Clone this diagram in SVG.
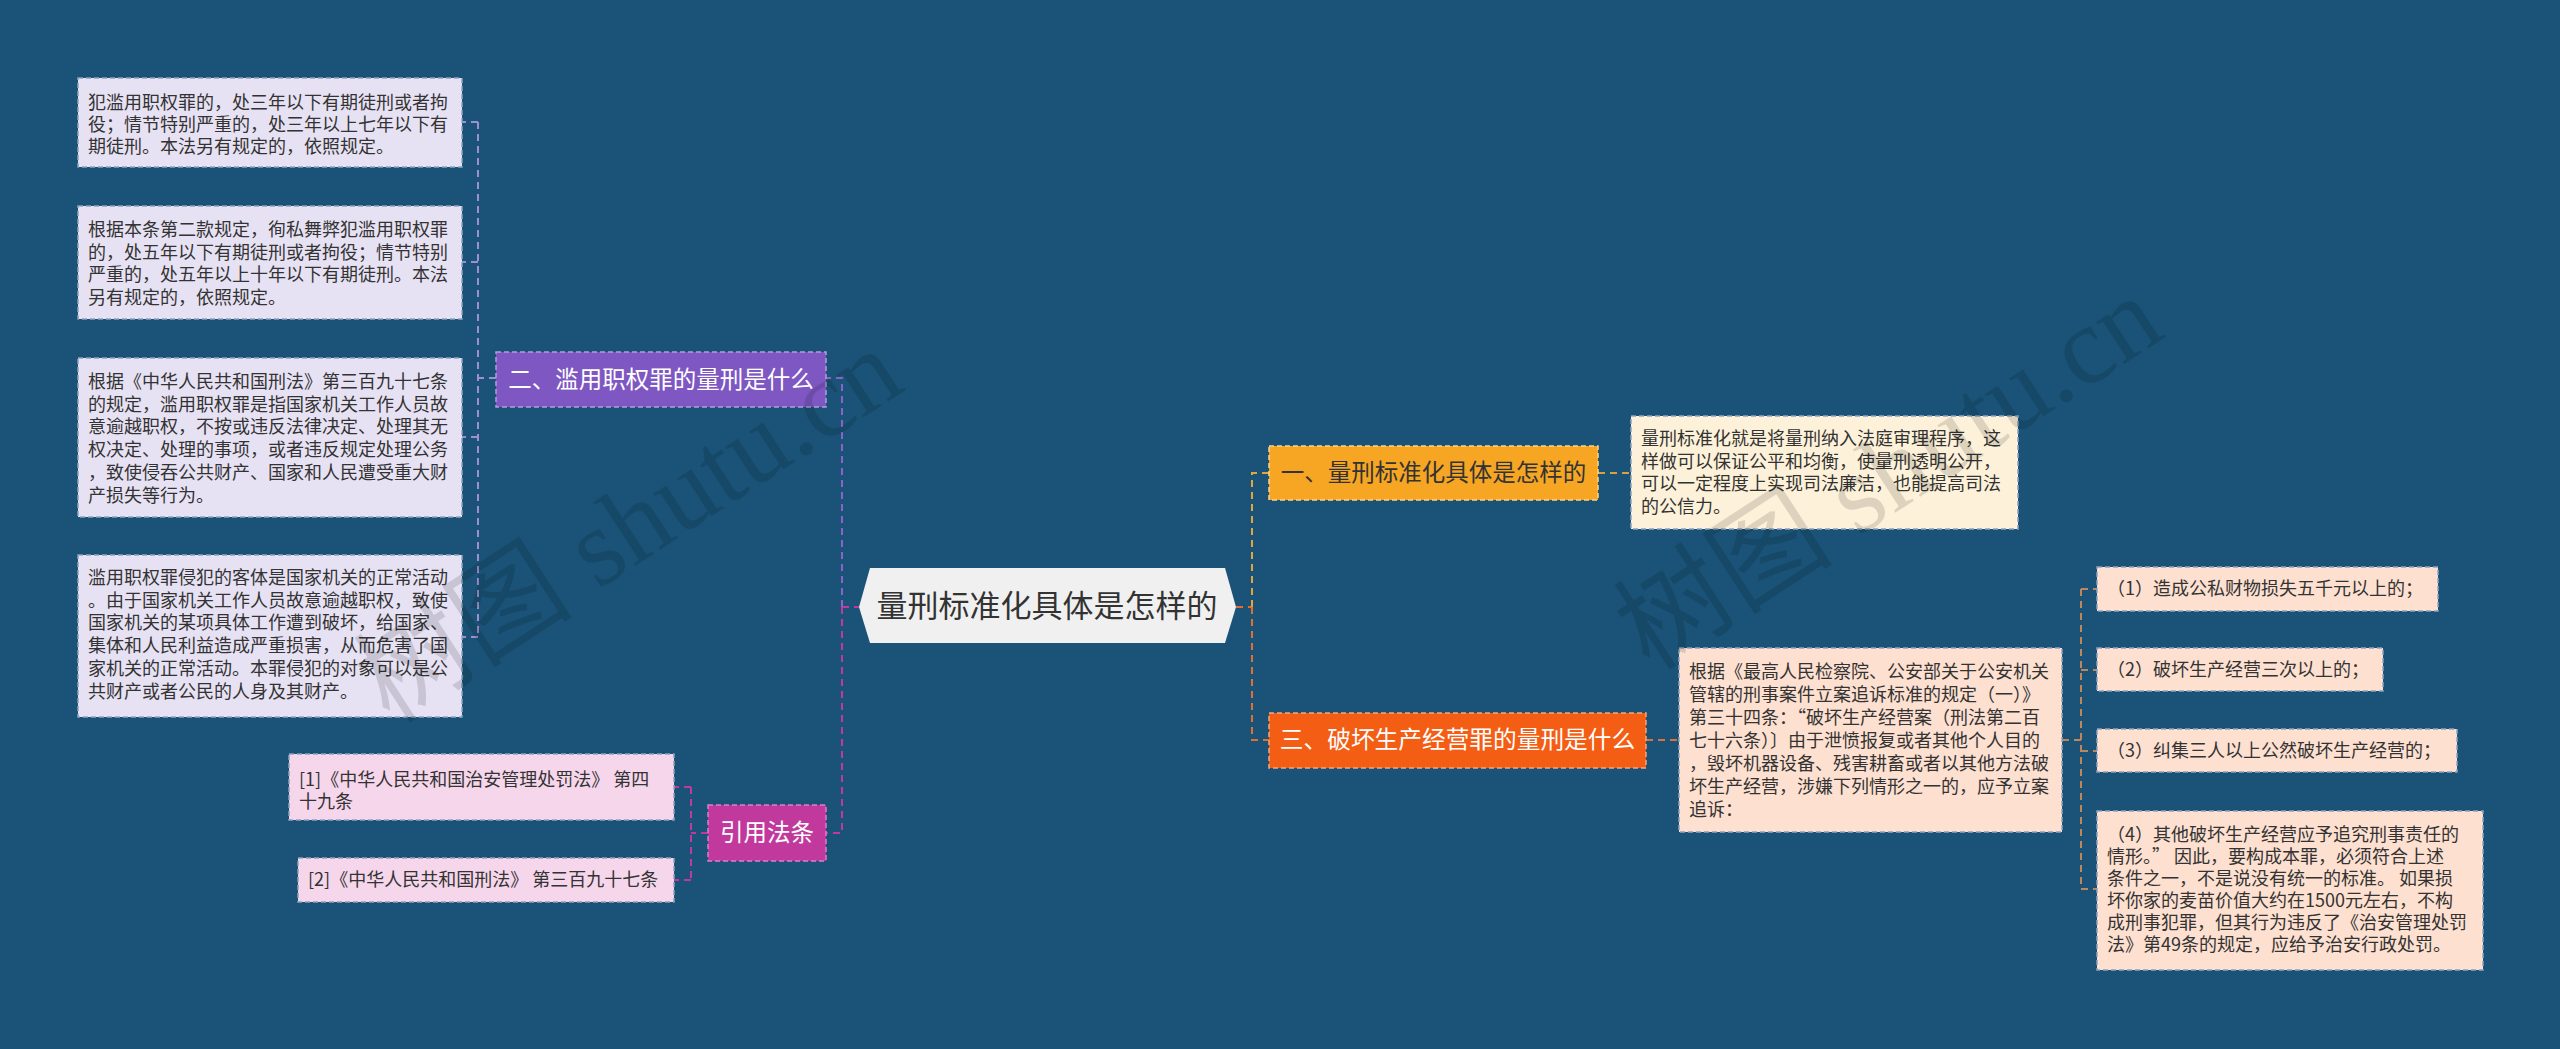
<svg xmlns="http://www.w3.org/2000/svg" width="2560" height="1049" viewBox="0 0 2560 1049">
<style>
text{font-family:"Noto Sans CJK SC","Noto Sans",sans-serif}
.t18{font-size:18px;fill:#333}
.node{stroke-width:1.5;stroke-dasharray:5 3}
.box{stroke:#8fa3bf;stroke-width:1.5;stroke-dasharray:5 3}
.c{fill:none;stroke-width:2;stroke-dasharray:7 5}
.wm{font-family:"Liberation Serif","Noto Sans CJK SC",serif;font-size:110px;fill:#000;fill-opacity:0.13}
</style>
<rect width="2560" height="1049" fill="#1a5377"/>
<g id="connectors">
<path class="c" stroke="#c2399e" d="M842,607 H859 M842,607 V833 H826"/>
<path class="c" stroke="#8a63c8" d="M842,607 V378 H826"/>
<path class="c" stroke="#e07030" d="M1236,607 H1252 M1252,607 V740 H1269"/>
<path class="c" stroke="#e0a63a" d="M1252,607 V473 H1269"/>
<path class="c" stroke="#a08fd0" d="M496,378 H478 M478,122 V637 M478,122 H462 M478,262 H462 M478,437 H462 M478,637 H462"/>
<path class="c" stroke="#c2399e" d="M708,833 H691 M691,787 V880 M691,787 H674 M691,880 H674"/>
<path class="c" stroke="#d9a040" d="M1598,473 H1631"/>
<path class="c" stroke="#d8743a" d="M1646,740 H1679"/>
<path class="c" stroke="#c0865a" d="M2062,740 H2081 M2081,589 V889 M2081,589 H2097 M2081,670 H2097 M2081,751 H2097 M2081,889 H2097"/>
</g>
<g id="root">
<polygon points="859,607 870,568 1225,568 1236,607 1225,643 870,643" fill="#f0f0f0"/>
<text x="1047" y="617" font-size="31" fill="#333" text-anchor="middle">量刑标准化具体是怎样的</text>
</g>
<g id="n2">
<rect class="node" x="496" y="352" width="330" height="55" fill="#7e57c2" stroke="#b39ddb"/>
<text x="661" y="388" font-size="23.5" fill="#fff" text-anchor="middle">二、滥用职权罪的量刑是什么</text>
</g>
<g id="n2c1">
<rect class="box" x="78" y="78" width="384" height="89" fill="#e7e2f3"/>
<text class="t18" x="88" y="109"><tspan x="88">犯滥用职权罪的，处三年以下有期徒刑或者拘</tspan><tspan x="88" dy="22">役；情节特别严重的，处三年以上七年以下有</tspan><tspan x="88" dy="22">期徒刑。本法另有规定的，依照规定。</tspan></text>
</g>
<g id="n2c2">
<rect class="box" x="78" y="206" width="384" height="113" fill="#e7e2f3"/>
<text class="t18" x="88" y="236"><tspan x="88">根据本条第二款规定，徇私舞弊犯滥用职权罪</tspan><tspan x="88" dy="22.7">的，处五年以下有期徒刑或者拘役；情节特别</tspan><tspan x="88" dy="22.7">严重的，处五年以上十年以下有期徒刑。本法</tspan><tspan x="88" dy="22.7">另有规定的，依照规定。</tspan></text>
</g>
<g id="n2c3">
<rect class="box" x="78" y="358" width="384" height="159" fill="#e7e2f3"/>
<text class="t18" x="88" y="388"><tspan x="88">根据《中华人民共和国刑法》第三百九十七条</tspan><tspan x="88" dy="22.7">的规定，滥用职权罪是指国家机关工作人员故</tspan><tspan x="88" dy="22.7">意逾越职权，不按或违反法律决定、处理其无</tspan><tspan x="88" dy="22.7">权决定、处理的事项，或者违反规定处理公务</tspan><tspan x="88" dy="22.7">，致使侵吞公共财产、国家和人民遭受重大财</tspan><tspan x="88" dy="22.7">产损失等行为。</tspan></text>
</g>
<g id="n2c4">
<rect class="box" x="78" y="555" width="384" height="162" fill="#e7e2f3"/>
<text class="t18" x="88" y="584"><tspan x="88">滥用职权罪侵犯的客体是国家机关的正常活动</tspan><tspan x="88" dy="22.7">。由于国家机关工作人员故意逾越职权，致使</tspan><tspan x="88" dy="22.7">国家机关的某项具体工作遭到破坏，给国家、</tspan><tspan x="88" dy="22.7">集体和人民利益造成严重损害，从而危害了国</tspan><tspan x="88" dy="22.7">家机关的正常活动。本罪侵犯的对象可以是公</tspan><tspan x="88" dy="22.7">共财产或者公民的人身及其财产。</tspan></text>
</g>
<g id="refs">
<rect class="node" x="708" y="805" width="118" height="56" fill="#c2399e" stroke="#e07cc8"/>
<text x="767" y="841" font-size="23.5" fill="#fff" text-anchor="middle">引用法条</text>
</g>
<g id="ref1">
<rect class="box" x="289" y="754" width="385" height="66" fill="#f6d6eb"/>
<text class="t18" x="299" y="786"><tspan x="299">[1]《中华人民共和国治安管理处罚法》 第四</tspan><tspan x="299" dy="22">十九条</tspan></text>
</g>
<g id="ref2">
<rect class="box" x="298" y="858" width="376" height="44" fill="#f6d6eb"/>
<text class="t18" x="308" y="886">[2]《中华人民共和国刑法》 第三百九十七条</text>
</g>
<g id="n1">
<rect class="node" x="1269" y="446" width="329" height="54" fill="#f6a623" stroke="#fbd38a"/>
<text x="1433.5" y="481" font-size="23.5" fill="#333" text-anchor="middle">一、量刑标准化具体是怎样的</text>
</g>
<g id="n1c1">
<rect class="box" x="1631" y="416" width="387" height="113" fill="#fdf2d9"/>
<text class="t18" x="1641" y="445"><tspan x="1641">量刑标准化就是将量刑纳入法庭审理程序，这</tspan><tspan x="1641" dy="22.7">样做可以保证公平和均衡，使量刑透明公开，</tspan><tspan x="1641" dy="22.7">可以一定程度上实现司法廉洁，也能提高司法</tspan><tspan x="1641" dy="22.7">的公信力。</tspan></text>
</g>
<g id="n3">
<rect class="node" x="1269" y="713" width="377" height="55" fill="#f45d14" stroke="#f9a57a"/>
<text x="1457.5" y="748" font-size="23.7" fill="#fff" text-anchor="middle">三、破坏生产经营罪的量刑是什么</text>
</g>
<g id="n3c1">
<rect class="box" x="1679" y="648" width="383" height="184" fill="#fde0d0"/>
<text class="t18" x="1689" y="678"><tspan x="1689">根据《最高人民检察院、公安部关于公安机关</tspan><tspan x="1689" dy="23">管辖的刑事案件立案追诉标准的规定（一）》</tspan><tspan x="1689" dy="23">第三十四条：“破坏生产经营案（刑法第二百</tspan><tspan x="1689" dy="23">七十六条）〕由于泄愤报复或者其他个人目的</tspan><tspan x="1689" dy="23">，毁坏机器设备、残害耕畜或者以其他方法破</tspan><tspan x="1689" dy="23">坏生产经营，涉嫌下列情形之一的，应予立案</tspan><tspan x="1689" dy="23">追诉：</tspan></text>
</g>
<g id="n3c1a">
<rect class="box" x="2097" y="567" width="341" height="44" fill="#fde0d0"/>
<text class="t18" x="2107" y="595">（1）造成公私财物损失五千元以上的；</text>
</g>
<g id="n3c1b">
<rect class="box" x="2097" y="648" width="286" height="43" fill="#fde0d0"/>
<text class="t18" x="2107" y="676">（2）破坏生产经营三次以上的；</text>
</g>
<g id="n3c1c">
<rect class="box" x="2097" y="729" width="360" height="43" fill="#fde0d0"/>
<text class="t18" x="2107" y="757">（3）纠集三人以上公然破坏生产经营的；</text>
</g>
<g id="n3c1d">
<rect class="box" x="2097" y="811" width="386" height="159" fill="#fde0d0"/>
<text class="t18" x="2107" y="841"><tspan x="2107">（4）其他破坏生产经营应予追究刑事责任的</tspan><tspan x="2107" dy="21.9">情形。”  因此，要构成本罪，必须符合上述</tspan><tspan x="2107" dy="21.9">条件之一，不是说没有统一的标准。 如果损</tspan><tspan x="2107" dy="21.9">坏你家的麦苗价值大约在1500元左右，不构</tspan><tspan x="2107" dy="21.9">成刑事犯罪，但其行为违反了《治安管理处罚</tspan><tspan x="2107" dy="21.9">法》第49条的规定，应给予治安行政处罚。</tspan></text>
</g>
<g id="watermark">
<text class="wm" transform="translate(390,725) rotate(-33)">树图 shutu.cn</text>
<text class="wm" transform="translate(1650,672) rotate(-33)">树图 shutu.cn</text>
</g>
</svg>
